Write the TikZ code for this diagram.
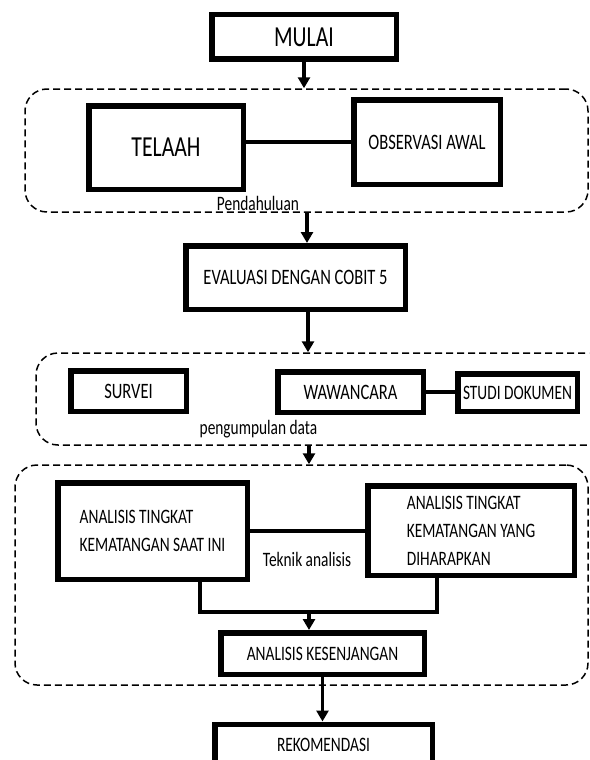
\documentclass[tikz,border=0pt]{standalone}
\usepackage{fontspec}
\usepackage{tikz}
\usetikzlibrary{arrows.meta, positioning, calc}
\newfontfamily\flowfont[FakeStretch=0.75]{Carlito}

\begin{document}
\begin{tikzpicture}[
    x=1pt, y=-1pt,
    box/.style={rectangle, draw=black, line width=5.5pt, fill=white, align=left, inner sep=2pt, font=\flowfont\fontsize{20.5}{28}\selectfont},
    bigbox/.style={box, font=\flowfont\fontsize{29}{34}\selectfont},
    midbox/.style={box, font=\flowfont\fontsize{22}{26}\selectfont},
    group/.style={rectangle, draw=black, line width=1.5pt, dash pattern=on 7pt off 4pt, rounded corners=22pt, inner sep=0pt},
    link/.style={line width=3.5pt},
    flow/.style={link, -{Triangle[width=12pt, length=11pt]}},
    note/.style={font=\flowfont\fontsize{20.5}{24}\selectfont, inner sep=0pt}
]
    \useasboundingbox (0,0) rectangle (589,760);
    \clip (0,0) rectangle (589,760);

    % Dashed groups
    \node[group, minimum width=563pt, minimum height=123pt] (pendahuluan) at (306.5,150.5) {};
    \node[group, minimum width=604pt, minimum height=92pt] (pengumpulan) at (338,399) {};
    \node[group, minimum width=573pt, minimum height=220pt] (teknik) at (301.5,575) {};

    % Steps
    \node[bigbox, minimum width=184.5pt, minimum height=44.5pt] (mulai) at (304,37) {MULAI};
    \node[bigbox, minimum width=154.5pt, minimum height=83.5pt] (telaah) at (166,147.5) {TELAAH};
    \node[midbox, minimum width=146.5pt, minimum height=84.5pt] (observasi) at (427,142) {OBSERVASI AWAL};
    \node[midbox, minimum width=219.5pt, minimum height=63.5pt] (evaluasi) at (295.5,277.5) {EVALUASI DENGAN COBIT 5};
    \node[midbox, minimum width=115.5pt, minimum height=40.5pt] (survei) at (128.5,391) {SURVEI};
    \node[midbox, minimum width=145.5pt, minimum height=40.5pt] (wawancara) at (350.5,392) {WAWANCARA};
    \node[box, minimum width=119.5pt, minimum height=37.5pt] (studi) at (517.5,392.5) {STUDI DOKUMEN};
    \node[box, minimum width=189.5pt, minimum height=96.5pt] (kini) at (152.5,531) {ANALISIS TINGKAT\\KEMATANGAN SAAT INI};
    \node[box, minimum width=206.5pt, minimum height=89.5pt] (harapan) at (471,530.5) {ANALISIS TINGKAT\\KEMATANGAN YANG\\DIHARAPKAN};
    \node[box, minimum width=203.5pt, minimum height=41.5pt] (kesenjangan) at (322.5,653.5) {ANALISIS KESENJANGAN};
    \node[box, minimum width=217.5pt, minimum height=41.5pt] (rekomendasi) at (323.5,745) {REKOMENDASI};

    % Group labels
    \node[note] (lblpendahuluan) at (258,203) {Pendahuluan};
    \node[note] (lblpengumpulan) at (258.5,429) {pengumpulan data};
    \node[note] (lblteknik) at (307,559) {Teknik analisis};

    % Connections
    \draw[link] (telaah.east |- observasi.west) -- (observasi.west);
    \draw[link] (wawancara.east) -- (wawancara.east -| studi.west);
    \draw[link] (kini.east) -- (kini.east -| harapan.west);
    \coordinate (joinL) at (200,612);
    \coordinate (joinR) at (437,612);
    \coordinate (joinM) at (309,612);
    \draw[link] (kini.south -| joinL) -- (joinL) -- (joinR) -- (harapan.south -| joinR);

    % Flow arrows
    \draw[flow] (mulai.south) -- (mulai.south |- pendahuluan.north);
    \draw[flow] ([xshift=11.5pt]evaluasi.north |- pendahuluan.south) -- ([xshift=11.5pt]evaluasi.north);
    \draw[flow] ([xshift=12.5pt]evaluasi.south) -- ([xshift=12.5pt]evaluasi.south |- pengumpulan.north);
    \draw[flow] (pengumpulan.south -| joinM) -- (teknik.north -| joinM);
    \draw[flow] (joinM) -- (joinM |- kesenjangan.north);
    \draw[flow] (kesenjangan.south) -- (kesenjangan.south |- rekomendasi.north);
\end{tikzpicture}
\end{document}
